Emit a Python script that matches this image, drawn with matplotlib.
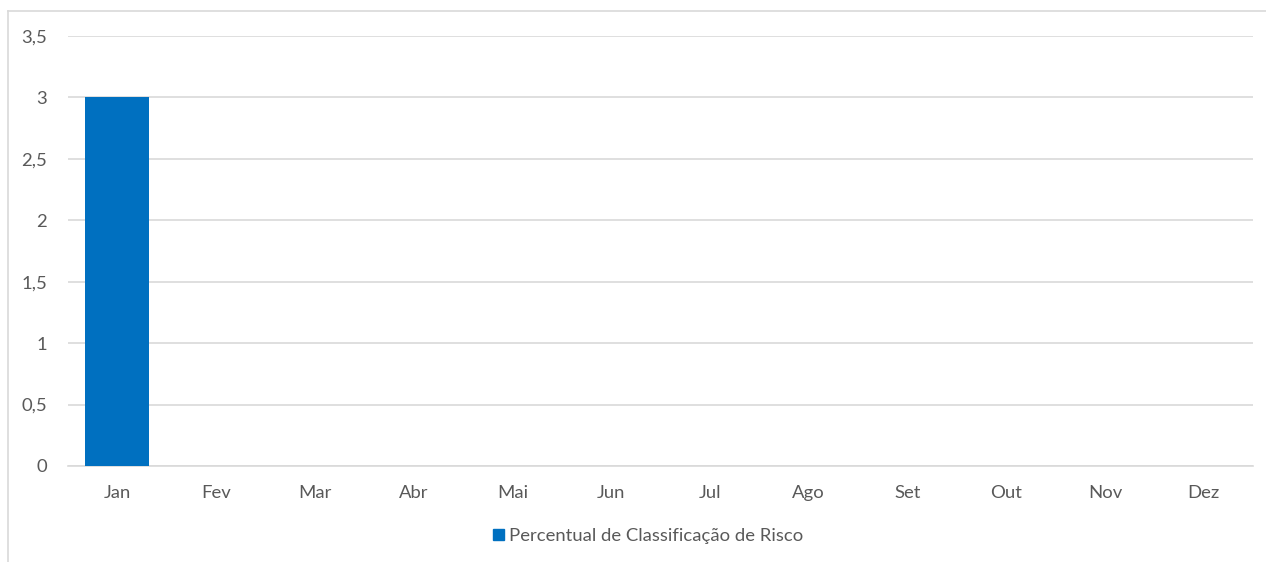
import matplotlib.pyplot as plt
from matplotlib.lines import Line2D
from matplotlib.patches import Patch

meses = ['Jan', 'Fev', 'Mar', 'Abr', 'Mai', 'Jun', 'Jul', 'Ago', 'Set', 'Out', 'Nov', 'Dez']
percentual = [3, 0, 0, 0, 0, 0, 0, 0, 0, 0, 0, 0]
y_ticks = [0, 0.5, 1, 1.5, 2, 2.5, 3, 3.5]
y_labels = ['0', '0,5', '1', '1,5', '2', '2,5', '3', '3,5']

plt.rcParams['font.family'] = ['Lato', 'DejaVu Sans']
cor_texto = '#595959'
cor_barra = '#0070C0'

W, H = 1266, 562
fig = plt.figure(figsize=(W / 100, H / 100), dpi=100)
ax = fig.add_axes([68 / W, 1 - 466 / H, (1253 - 68) / W, (466 - 36) / H])

ax.bar(range(len(meses)), percentual, width=0.65, color=cor_barra, zorder=3)
ax.set_xlim(-0.5, len(meses) - 0.5)
ax.set_ylim(0, 3.5)
ax.set_yticks(y_ticks)
ax.set_yticklabels(y_labels)
ax.set_xticks(range(len(meses)))
ax.set_xticklabels(meses)
ax.grid(axis='y', color='#d9d9d9', linewidth=1.2, zorder=0)
for s in ['top', 'right', 'left']:
    ax.spines[s].set_visible(False)
ax.spines['bottom'].set_color('#d9d9d9')
ax.spines['bottom'].set_linewidth(1.2)
ax.tick_params(axis='both', length=0, colors=cor_texto, labelsize=13.3)
ax.tick_params(axis='y', pad=15)
ax.tick_params(axis='x', pad=14)

# legenda
fig.legend(handles=[Patch(color=cor_barra, label='Percentual de Classificação de Risco')],
           loc='center', bbox_to_anchor=(648 / W, 1 - 536 / H), frameon=False,
           fontsize=13.3, labelcolor=cor_texto, handlelength=0.6, handleheight=0.6,
           handletextpad=0.3)

# borda do gráfico
fig.add_artist(Line2D([8 / W, 8 / W], [0, 1 - 11 / H], color='#d9d9d9', linewidth=1.2, transform=fig.transFigure))
fig.add_artist(Line2D([8 / W, 1], [1 - 11 / H, 1 - 11 / H], color='#d9d9d9', linewidth=1.2, transform=fig.transFigure))

fig.savefig('out.png', dpi=100)
